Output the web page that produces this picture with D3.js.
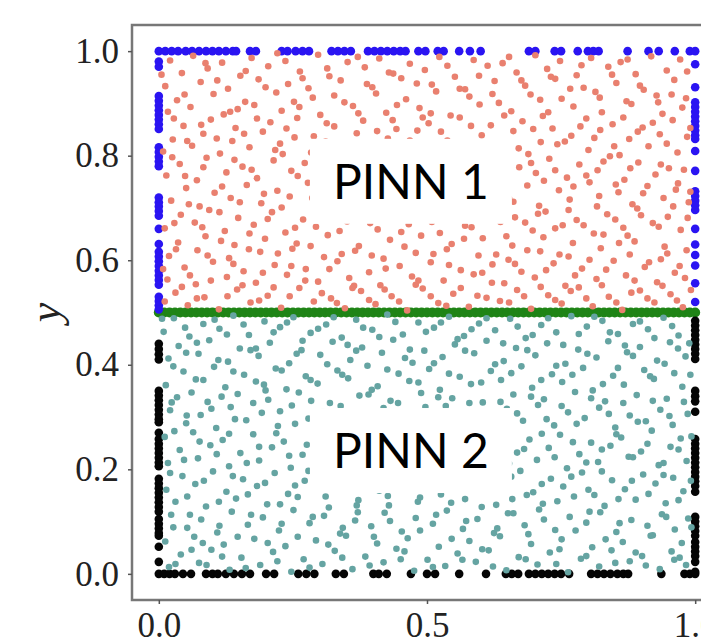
<!DOCTYPE html>
<html>
<head>
<meta charset="utf-8">
<script src="https://cdn.jsdelivr.net/npm/d3@7"></script>
<style>
  body { margin: 0; background: #fff; }
  svg { display: block; }
</style>
</head>
<body>
<div id="chart"></div>
<script>
// residual points, PINN 1 subdomain (y > 0.5)
const pinn1Points = [
  [0.021,0.982],[0.064,0.991],[0.118,0.978],[0.173,0.987],[0.236,0.981],[0.297,0.993],[0.352,0.979],[0.411,0.986],[0.468,0.976],[0.523,0.989],[0.587,0.983],[0.641,0.977],[0.702,0.992],[0.748,0.981],[0.806,0.987],[0.861,0.979],[0.918,0.99],[0.972,0.984],
  [0.043,0.958],[0.091,0.967],[0.152,0.953],[0.204,0.971],[0.263,0.961],[0.318,0.952],[0.384,0.969],[0.437,0.957],[0.496,0.964],[0.552,0.951],[0.613,0.972],[0.667,0.959],[0.724,0.966],[0.779,0.954],[0.838,0.97],[0.889,0.956],[0.947,0.963],
  [0.012,0.933],[0.078,0.941],[0.129,0.928],[0.186,0.946],[0.241,0.937],[0.279,0.929],[0.339,0.944],[0.398,0.931],[0.452,0.948],[0.509,0.936],[0.571,0.927],[0.626,0.943],[0.683,0.934],[0.739,0.947],[0.792,0.93],[0.853,0.939],[0.904,0.926],[0.961,0.945],
  [0.034,0.906],[0.102,0.918],[0.161,0.903],[0.219,0.921],[0.287,0.911],[0.346,0.902],[0.405,0.919],[0.461,0.908],[0.517,0.923],[0.579,0.913],[0.634,0.901],[0.693,0.917],[0.751,0.909],[0.814,0.922],[0.872,0.904],[0.928,0.915],[0.983,0.91],
  [0.017,0.884],[0.059,0.893],[0.121,0.879],[0.178,0.897],[0.229,0.886],[0.301,0.878],[0.362,0.895],[0.424,0.882],[0.486,0.891],[0.544,0.877],[0.598,0.898],[0.657,0.885],[0.716,0.876],[0.773,0.894],[0.826,0.883],[0.881,0.899],[0.939,0.88],[0.976,0.892],
  [0.046,0.857],[0.097,0.869],[0.143,0.853],[0.208,0.864],[0.258,0.872],[0.327,0.856],[0.381,0.867],[0.443,0.851],[0.503,0.862],[0.561,0.873],[0.619,0.858],[0.678,0.866],[0.734,0.852],[0.797,0.871],[0.846,0.86],[0.902,0.854],[0.958,0.868],
  [0.026,0.831],[0.083,0.842],[0.137,0.828],[0.194,0.846],[0.253,0.835],[0.311,0.827],[0.369,0.843],[0.427,0.833],[0.482,0.848],[0.538,0.829],[0.602,0.839],[0.661,0.847],[0.712,0.826],[0.769,0.838],[0.823,0.849],[0.877,0.832],[0.934,0.841],[0.985,0.836],
  [0.008,0.808],[0.062,0.819],[0.114,0.804],[0.169,0.816],[0.226,0.823],[0.284,0.806],[0.336,0.818],[0.393,0.802],[0.456,0.814],[0.514,0.821],[0.573,0.807],[0.629,0.817],[0.689,0.803],[0.743,0.822],[0.801,0.811],[0.859,0.801],[0.913,0.818],[0.967,0.806],
  [0.039,0.784],[0.089,0.796],[0.156,0.779],[0.214,0.791],[0.272,0.786],[0.331,0.798],[0.388,0.777],[0.447,0.789],[0.498,0.797],[0.557,0.781],[0.614,0.792],[0.672,0.778],[0.728,0.794],[0.784,0.783],[0.841,0.799],[0.894,0.787],[0.951,0.776],
  [0.014,0.762],[0.071,0.753],[0.126,0.768],[0.183,0.757],[0.247,0.771],[0.304,0.759],[0.358,0.766],[0.417,0.752],[0.471,0.769],[0.529,0.761],[0.589,0.774],[0.646,0.756],[0.703,0.767],[0.761,0.758],[0.818,0.772],[0.868,0.754],[0.926,0.764],[0.979,0.773],
  [0.051,0.738],[0.104,0.729],[0.164,0.744],[0.221,0.733],[0.278,0.748],[0.342,0.727],[0.401,0.741],[0.458,0.731],[0.519,0.746],[0.568,0.736],[0.631,0.728],[0.687,0.743],[0.746,0.734],[0.803,0.749],[0.857,0.73],[0.911,0.742],[0.964,0.735],
  [0.023,0.714],[0.076,0.703],[0.134,0.719],[0.191,0.709],[0.244,0.722],[0.306,0.706],[0.364,0.717],[0.421,0.702],[0.477,0.713],[0.536,0.724],[0.594,0.708],[0.653,0.718],[0.709,0.704],[0.766,0.716],[0.821,0.723],[0.883,0.707],[0.941,0.719],[0.988,0.711],
  [0.041,0.687],[0.094,0.696],[0.148,0.681],[0.211,0.692],[0.269,0.678],[0.324,0.694],[0.379,0.684],[0.438,0.698],[0.494,0.679],[0.551,0.689],[0.608,0.697],[0.664,0.682],[0.721,0.693],[0.779,0.677],[0.836,0.688],[0.892,0.699],[0.949,0.683],
  [0.011,0.661],[0.067,0.672],[0.123,0.656],[0.177,0.668],[0.236,0.653],[0.293,0.664],[0.351,0.674],[0.408,0.659],[0.466,0.669],[0.524,0.652],[0.583,0.663],[0.637,0.673],[0.697,0.657],[0.753,0.667],[0.811,0.651],[0.866,0.662],[0.921,0.671],[0.973,0.658],
  [0.036,0.634],[0.087,0.646],[0.141,0.629],[0.198,0.641],[0.257,0.632],[0.315,0.648],[0.373,0.627],[0.431,0.639],[0.489,0.647],[0.546,0.631],[0.604,0.642],[0.659,0.628],[0.717,0.644],[0.772,0.633],[0.829,0.649],[0.887,0.636],[0.943,0.626],
  [0.019,0.608],[0.072,0.619],[0.131,0.604],[0.189,0.616],[0.249,0.622],[0.308,0.606],[0.366,0.618],[0.419,0.603],[0.479,0.614],[0.537,0.621],[0.596,0.609],[0.652,0.601],[0.711,0.617],[0.764,0.607],[0.824,0.623],[0.878,0.611],[0.936,0.602],[0.984,0.619],
  [0.048,0.586],[0.101,0.597],[0.158,0.579],[0.216,0.591],[0.274,0.583],[0.333,0.598],[0.392,0.577],[0.449,0.589],[0.507,0.596],[0.563,0.581],[0.622,0.592],[0.676,0.578],[0.736,0.594],[0.789,0.584],[0.848,0.599],[0.906,0.587],[0.962,0.576],
  [0.016,0.563],[0.069,0.554],[0.127,0.568],[0.181,0.557],[0.239,0.572],[0.297,0.559],[0.355,0.566],[0.413,0.552],[0.472,0.569],[0.531,0.561],[0.587,0.573],[0.644,0.556],[0.701,0.567],[0.758,0.551],[0.816,0.564],[0.871,0.571],[0.929,0.558],[0.981,0.566],
  [0.031,0.538],[0.085,0.529],[0.146,0.544],[0.203,0.532],[0.262,0.547],[0.321,0.527],[0.377,0.541],[0.434,0.531],[0.492,0.546],[0.549,0.536],[0.611,0.528],[0.668,0.543],[0.726,0.533],[0.783,0.548],[0.839,0.53],[0.897,0.542],[0.954,0.535],
  [0.054,0.514],[0.112,0.506],[0.171,0.519],[0.228,0.509],[0.289,0.521],[0.347,0.508],[0.404,0.516],[0.463,0.504],[0.521,0.518],[0.578,0.511],[0.636,0.522],[0.694,0.507],[0.751,0.517],[0.809,0.512],[0.864,0.505],[0.924,0.519],[0.977,0.51],
  [0.005,0.955],[0.048,0.917],[0.087,0.977],[0.109,0.944],[0.147,0.889],[0.162,0.962],[0.199,0.931],[0.221,0.996],[0.252,0.903],[0.268,0.948],[0.314,0.967],[0.327,0.915],[0.371,0.989],[0.388,0.937],[0.429,0.959],[0.444,0.897],[0.481,0.938],[0.507,0.881],[0.538,0.972],[0.561,0.928],[0.597,0.953],[0.622,0.918],[0.653,0.989],[0.676,0.944],[0.711,0.907],[0.731,0.951],[0.767,0.928],[0.788,0.973],[0.822,0.911],[0.845,0.955],[0.874,0.984],[0.897,0.934],[0.931,0.902],[0.956,0.917],[0.985,0.961],
  [0.028,0.871],[0.053,0.828],[0.079,0.859],[0.108,0.833],[0.133,0.884],[0.159,0.842],[0.183,0.871],[0.217,0.811],[0.238,0.852],[0.262,0.893],[0.289,0.837],[0.313,0.862],[0.348,0.821],[0.372,0.881],[0.407,0.847],[0.436,0.868],[0.468,0.829],[0.492,0.873],[0.526,0.846],[0.553,0.811],[0.582,0.857],[0.611,0.823],[0.644,0.877],[0.671,0.814],[0.698,0.851],[0.726,0.883],[0.757,0.827],[0.786,0.856],[0.812,0.834],[0.849,0.818],[0.866,0.873],[0.893,0.846],[0.921,0.863],[0.947,0.823],[0.991,0.853],
  [0.025,0.797],[0.049,0.761],[0.083,0.778],[0.118,0.741],[0.141,0.792],[0.173,0.773],[0.196,0.727],[0.231,0.803],[0.259,0.761],[0.292,0.772],[0.317,0.738],[0.346,0.784],[0.374,0.751],[0.406,0.776],[0.433,0.719],[0.463,0.796],[0.488,0.744],[0.513,0.788],[0.543,0.749],[0.574,0.726],[0.601,0.779],[0.638,0.764],[0.661,0.712],[0.694,0.786],[0.718,0.752],[0.739,0.772],[0.773,0.741],[0.797,0.762],[0.829,0.789],[0.852,0.745],[0.879,0.776],[0.903,0.728],[0.936,0.783],[0.968,0.747],[0.991,0.731],
  [0.029,0.671],[0.056,0.707],[0.081,0.663],[0.113,0.692],[0.151,0.711],[0.169,0.651],[0.203,0.679],[0.229,0.701],[0.254,0.662],[0.286,0.719],[0.312,0.687],[0.337,0.656],[0.361,0.701],[0.394,0.671],[0.426,0.688],[0.452,0.654],[0.483,0.702],[0.509,0.673],[0.537,0.697],[0.571,0.666],[0.596,0.683],[0.621,0.708],[0.648,0.646],[0.683,0.672],[0.707,0.689],[0.739,0.661],[0.764,0.696],[0.792,0.667],[0.817,0.703],[0.851,0.678],[0.874,0.647],[0.899,0.686],[0.932,0.664],[0.959,0.703],[0.986,0.681],
  [0.008,0.583],[0.032,0.621],[0.058,0.571],[0.091,0.609],[0.116,0.637],[0.139,0.593],[0.168,0.621],[0.194,0.576],[0.222,0.613],[0.247,0.589],[0.283,0.627],[0.318,0.583],[0.341,0.612],[0.364,0.551],[0.397,0.609],[0.423,0.584],[0.458,0.626],[0.484,0.561],[0.512,0.612],[0.541,0.591],[0.569,0.641],[0.603,0.576],[0.629,0.611],[0.664,0.593],[0.687,0.619],[0.722,0.581],[0.747,0.611],[0.776,0.571],[0.803,0.601],[0.834,0.582],[0.858,0.633],[0.887,0.561],[0.914,0.596],[0.948,0.613],[0.971,0.589],
  [0.011,0.521],[0.043,0.549],[0.071,0.527],[0.097,0.561],[0.128,0.531],[0.156,0.552],[0.187,0.523],[0.214,0.548],[0.244,0.531],[0.273,0.561],[0.304,0.537],[0.332,0.518],[0.361,0.547],[0.392,0.524],[0.421,0.544],[0.448,0.521],[0.479,0.553],[0.507,0.531],[0.536,0.513],[0.563,0.547],[0.594,0.532],[0.621,0.557],[0.653,0.519],[0.681,0.531],[0.712,0.549],[0.739,0.524],[0.768,0.541],[0.797,0.527],[0.826,0.552],[0.853,0.519],[0.881,0.538],[0.911,0.527],[0.939,0.551],[0.966,0.523],[0.992,0.543]
];

// residual points, PINN 2 subdomain (y < 0.5)
const pinn2Points = [
  [0.028,0.489],[0.083,0.478],[0.139,0.494],[0.197,0.483],[0.251,0.491],[0.312,0.477],[0.368,0.486],[0.426,0.496],[0.484,0.481],[0.541,0.492],[0.597,0.479],[0.655,0.488],[0.713,0.476],[0.769,0.493],[0.827,0.484],[0.884,0.478],[0.941,0.49],
  [0.009,0.463],[0.057,0.454],[0.113,0.469],[0.168,0.457],[0.226,0.472],[0.283,0.461],[0.341,0.452],[0.398,0.467],[0.455,0.458],[0.513,0.471],[0.569,0.455],[0.627,0.466],[0.684,0.451],[0.741,0.462],[0.798,0.473],[0.856,0.459],[0.912,0.468],[0.969,0.456],
  [0.037,0.436],[0.094,0.447],[0.151,0.431],[0.207,0.442],[0.266,0.428],[0.324,0.444],[0.379,0.433],[0.437,0.448],[0.495,0.427],[0.552,0.439],[0.611,0.446],[0.666,0.432],[0.724,0.441],[0.782,0.429],[0.838,0.445],[0.897,0.434],[0.953,0.443],
  [0.018,0.412],[0.074,0.421],[0.129,0.406],[0.186,0.417],[0.243,0.403],[0.301,0.419],[0.357,0.409],[0.416,0.423],[0.473,0.404],[0.529,0.415],[0.588,0.422],[0.643,0.407],[0.702,0.418],[0.758,0.402],[0.816,0.414],[0.873,0.424],[0.929,0.408],[0.982,0.416],
  [0.046,0.387],[0.103,0.396],[0.159,0.381],[0.218,0.393],[0.274,0.378],[0.333,0.389],[0.389,0.398],[0.447,0.383],[0.504,0.392],[0.561,0.377],[0.619,0.388],[0.676,0.397],[0.733,0.382],[0.791,0.394],[0.847,0.379],[0.905,0.39],[0.961,0.384],
  [0.013,0.361],[0.069,0.372],[0.124,0.357],[0.181,0.368],[0.238,0.353],[0.296,0.364],[0.353,0.374],[0.408,0.359],[0.467,0.369],[0.524,0.352],[0.582,0.363],[0.638,0.371],[0.696,0.356],[0.752,0.367],[0.809,0.351],[0.867,0.362],[0.923,0.373],[0.976,0.358],
  [0.034,0.338],[0.091,0.329],[0.147,0.344],[0.204,0.333],[0.261,0.347],[0.319,0.327],[0.374,0.341],[0.432,0.331],[0.489,0.346],[0.547,0.336],[0.604,0.328],[0.661,0.343],[0.718,0.334],[0.776,0.348],[0.832,0.33],[0.891,0.342],[0.947,0.335],
  [0.021,0.313],[0.078,0.304],[0.134,0.319],[0.192,0.308],[0.248,0.322],[0.306,0.311],[0.363,0.302],[0.419,0.317],[0.477,0.307],[0.535,0.321],[0.592,0.305],[0.649,0.316],[0.707,0.323],[0.763,0.309],[0.821,0.318],[0.878,0.303],[0.935,0.314],[0.986,0.306],
  [0.051,0.288],[0.107,0.279],[0.163,0.294],[0.222,0.283],[0.279,0.297],[0.336,0.277],[0.393,0.291],[0.451,0.281],[0.508,0.296],[0.565,0.286],[0.622,0.278],[0.679,0.293],[0.737,0.284],[0.794,0.298],[0.851,0.28],[0.908,0.292],[0.958,0.285],
  [0.011,0.262],[0.064,0.271],[0.119,0.256],[0.176,0.267],[0.233,0.253],[0.291,0.264],[0.347,0.273],[0.404,0.258],[0.462,0.268],[0.519,0.252],[0.577,0.263],[0.634,0.272],[0.691,0.257],[0.748,0.266],[0.806,0.251],[0.862,0.261],[0.919,0.274],[0.973,0.259],
  [0.039,0.237],[0.096,0.246],[0.152,0.231],[0.211,0.242],[0.268,0.228],[0.326,0.244],[0.383,0.233],[0.441,0.248],[0.498,0.227],[0.554,0.239],[0.613,0.245],[0.668,0.232],[0.727,0.241],[0.784,0.229],[0.842,0.245],[0.899,0.234],[0.954,0.243],
  [0.017,0.212],[0.073,0.221],[0.131,0.206],[0.187,0.217],[0.246,0.203],[0.303,0.219],[0.359,0.209],[0.418,0.223],[0.474,0.204],[0.532,0.215],[0.59,0.222],[0.646,0.207],[0.705,0.218],[0.761,0.202],[0.819,0.214],[0.876,0.224],[0.932,0.208],[0.984,0.216],
  [0.044,0.187],[0.101,0.196],[0.157,0.181],[0.216,0.193],[0.272,0.178],[0.331,0.189],[0.387,0.198],[0.446,0.183],[0.503,0.192],[0.559,0.177],[0.617,0.188],[0.674,0.197],[0.731,0.182],[0.789,0.194],[0.845,0.179],[0.903,0.19],[0.959,0.184],
  [0.014,0.161],[0.068,0.172],[0.126,0.157],[0.183,0.168],[0.241,0.153],[0.298,0.164],[0.354,0.174],[0.411,0.159],[0.469,0.169],[0.526,0.152],[0.584,0.163],[0.641,0.171],[0.698,0.156],[0.754,0.167],[0.812,0.151],[0.869,0.162],[0.926,0.173],[0.978,0.158],
  [0.031,0.138],[0.088,0.129],[0.144,0.144],[0.202,0.133],[0.259,0.147],[0.317,0.127],[0.372,0.141],[0.429,0.131],[0.487,0.146],[0.545,0.136],[0.602,0.128],[0.659,0.143],[0.716,0.134],[0.774,0.148],[0.831,0.13],[0.889,0.142],[0.945,0.135],
  [0.023,0.113],[0.079,0.104],[0.136,0.119],[0.194,0.108],[0.251,0.122],[0.308,0.111],[0.366,0.102],[0.421,0.117],[0.479,0.107],[0.537,0.121],[0.594,0.105],[0.651,0.116],[0.709,0.123],[0.766,0.109],[0.823,0.118],[0.881,0.103],[0.938,0.114],[0.987,0.106],
  [0.053,0.088],[0.109,0.079],[0.166,0.094],[0.224,0.083],[0.281,0.097],[0.338,0.077],[0.396,0.091],[0.453,0.081],[0.511,0.096],[0.567,0.086],[0.625,0.078],[0.682,0.093],[0.739,0.084],[0.797,0.098],[0.853,0.08],[0.911,0.092],[0.962,0.085],
  [0.012,0.062],[0.066,0.071],[0.121,0.056],[0.178,0.067],[0.236,0.053],[0.293,0.064],[0.349,0.073],[0.407,0.058],[0.464,0.068],[0.522,0.052],[0.579,0.063],[0.636,0.072],[0.694,0.057],[0.751,0.066],[0.808,0.051],[0.865,0.061],[0.921,0.074],[0.975,0.059],
  [0.041,0.037],[0.098,0.046],[0.154,0.031],[0.213,0.042],[0.27,0.028],[0.328,0.044],[0.385,0.033],[0.443,0.048],[0.501,0.027],[0.557,0.039],[0.615,0.045],[0.671,0.032],[0.729,0.041],[0.787,0.029],[0.844,0.045],[0.901,0.034],[0.956,0.043],
  [0.019,0.013],[0.075,0.021],[0.132,0.008],[0.189,0.017],[0.247,0.004],[0.305,0.019],[0.361,0.009],[0.419,0.022],[0.476,0.006],[0.534,0.015],[0.591,0.023],[0.648,0.007],[0.706,0.018],[0.763,0.003],[0.821,0.014],[0.878,0.024],[0.934,0.009],[0.983,0.017],
  [0.006,0.488],[0.049,0.471],[0.071,0.442],[0.104,0.486],[0.127,0.458],[0.158,0.477],[0.181,0.431],[0.214,0.462],[0.239,0.481],[0.268,0.446],[0.297,0.469],[0.326,0.491],[0.352,0.438],[0.381,0.471],[0.411,0.453],[0.441,0.482],[0.468,0.429],[0.498,0.463],[0.526,0.481],[0.557,0.449],[0.583,0.468],[0.611,0.489],[0.642,0.441],[0.669,0.473],[0.697,0.457],[0.726,0.489],[0.754,0.438],[0.783,0.459],[0.812,0.492],[0.841,0.462],[0.869,0.437],[0.897,0.483],[0.924,0.451],[0.957,0.474],[0.989,0.441],
  [0.027,0.397],[0.051,0.423],[0.083,0.371],[0.111,0.409],[0.139,0.387],[0.171,0.428],[0.196,0.362],[0.229,0.389],[0.257,0.421],[0.283,0.371],[0.314,0.401],[0.342,0.381],[0.368,0.427],[0.397,0.352],[0.426,0.391],[0.459,0.413],[0.484,0.366],[0.513,0.403],[0.541,0.383],[0.571,0.427],[0.601,0.366],[0.627,0.401],[0.657,0.384],[0.687,0.428],[0.713,0.371],[0.741,0.398],[0.771,0.381],[0.799,0.421],[0.828,0.363],[0.856,0.394],[0.884,0.417],[0.916,0.378],[0.943,0.402],[0.968,0.431],[0.991,0.381],
  [0.024,0.328],[0.052,0.303],[0.061,0.347],[0.098,0.316],[0.117,0.339],[0.142,0.296],[0.176,0.327],[0.199,0.351],[0.226,0.311],[0.254,0.287],[0.284,0.331],[0.309,0.296],[0.339,0.321],[0.358,0.287],[0.391,0.343],[0.411,0.306],[0.446,0.327],[0.469,0.291],[0.497,0.319],[0.521,0.338],[0.553,0.303],[0.579,0.327],[0.608,0.289],[0.637,0.329],[0.668,0.307],[0.694,0.339],[0.723,0.296],[0.751,0.321],[0.779,0.287],[0.806,0.336],[0.839,0.306],[0.866,0.327],[0.893,0.291],[0.921,0.331],[0.952,0.302],[0.979,0.329],
  [0.029,0.273],[0.047,0.218],[0.076,0.253],[0.108,0.229],[0.131,0.268],[0.164,0.212],[0.187,0.243],[0.219,0.269],[0.243,0.226],[0.276,0.247],[0.307,0.266],[0.334,0.214],[0.366,0.241],[0.393,0.268],[0.421,0.218],[0.452,0.239],[0.479,0.259],[0.508,0.213],[0.539,0.249],[0.566,0.271],[0.597,0.226],[0.624,0.253],[0.653,0.211],[0.681,0.239],[0.714,0.268],[0.738,0.223],[0.772,0.252],[0.797,0.213],[0.826,0.238],[0.853,0.267],[0.884,0.223],[0.911,0.249],[0.941,0.212],[0.969,0.238],[0.993,0.263],
  [0.021,0.193],[0.053,0.148],[0.084,0.178],[0.112,0.138],[0.138,0.187],[0.166,0.152],[0.198,0.174],[0.226,0.133],[0.254,0.169],[0.279,0.197],[0.311,0.148],[0.341,0.172],[0.369,0.131],[0.397,0.181],[0.427,0.149],[0.454,0.198],[0.483,0.138],[0.514,0.171],[0.543,0.193],[0.571,0.143],[0.597,0.173],[0.629,0.132],[0.657,0.186],[0.686,0.151],[0.714,0.172],[0.743,0.139],[0.769,0.186],[0.801,0.161],[0.826,0.196],[0.857,0.143],[0.882,0.178],[0.913,0.153],[0.941,0.189],[0.969,0.141],[0.992,0.178],
  [0.027,0.089],[0.058,0.113],[0.082,0.059],[0.113,0.092],[0.147,0.071],[0.172,0.113],[0.203,0.059],[0.229,0.096],[0.259,0.071],[0.287,0.109],[0.316,0.056],[0.343,0.088],[0.371,0.118],[0.401,0.071],[0.431,0.101],[0.458,0.043],[0.487,0.083],[0.517,0.113],[0.546,0.067],[0.573,0.101],[0.603,0.047],[0.631,0.087],[0.661,0.116],[0.689,0.076],[0.718,0.104],[0.747,0.047],[0.777,0.083],[0.803,0.119],[0.833,0.066],[0.859,0.097],[0.889,0.041],[0.917,0.073],[0.946,0.109],[0.971,0.031],[0.993,0.089],
  [0.031,0.019],[0.061,0.046],[0.089,0.017],[0.118,0.033],[0.162,0.011],[0.221,0.024],[0.281,0.012],[0.342,0.031],[0.393,0.016],[0.451,0.028],[0.511,0.013],[0.566,0.027],[0.623,0.014],[0.684,0.028],[0.741,0.019],[0.797,0.034],[0.851,0.021],[0.908,0.016],[0.961,0.027]
];

// boundary points of PINN 1 (blue)
const blueTopX = [0,0.012,0.024,0.036,0.05,0.062,0.075,0.088,0.1,0.112,0.125,0.138,0.144,0.17,0.181,0.229,0.24,0.255,0.268,0.28,0.322,0.334,0.346,0.358,0.39,0.402,0.414,0.426,0.438,0.45,0.46,0.484,0.497,0.52,0.531,0.56,0.58,0.6,0.69,0.702,0.738,0.75,0.781,0.8,0.81,0.82,0.874,0.913,0.932,0.962,0.99,1.0];
const blueLeftY = [0.98,0.97,0.914,0.905,0.896,0.887,0.878,0.869,0.86,0.851,0.816,0.807,0.798,0.789,0.78,0.72,0.711,0.703,0.694,0.685,0.66,0.631,0.616,0.607,0.598,0.589,0.58,0.571,0.562,0.553,0.53,0.522,0.514,0.506];
const blueRightY = [0.975,0.931,0.902,0.893,0.884,0.875,0.866,0.857,0.848,0.839,0.832,0.809,0.771,0.732,0.723,0.714,0.705,0.696,0.66,0.63,0.61,0.59,0.556,0.52];

// boundary points of PINN 2 (black)
const blackBottomX = [0,0.01,0.02,0.03,0.045,0.06,0.088,0.1,0.11,0.125,0.14,0.155,0.17,0.2,0.215,0.26,0.275,0.29,0.33,0.345,0.4,0.41,0.425,0.47,0.5,0.515,0.56,0.61,0.647,0.658,0.67,0.69,0.702,0.714,0.726,0.738,0.75,0.765,0.806,0.818,0.83,0.842,0.855,0.866,0.875,0.937,0.98,0.99,1.0];
const blackLeftY = [0.44,0.43,0.42,0.41,0.35,0.341,0.332,0.323,0.314,0.305,0.296,0.29,0.27,0.258,0.249,0.24,0.231,0.222,0.213,0.206,0.182,0.173,0.164,0.155,0.146,0.137,0.128,0.119,0.105,0.096,0.087,0.078,0.073,0.052,0.023];
const blackRightY = [0.484,0.475,0.466,0.457,0.448,0.439,0.43,0.421,0.411,0.35,0.34,0.33,0.31,0.258,0.249,0.24,0.231,0.222,0.213,0.204,0.195,0.186,0.177,0.168,0.157,0.109,0.1,0.091,0.082,0.073,0.061,0.052,0.043,0.034,0.023,0.004];

// interface points at y = 0.5 (green)
const interfaceX = [0,0.01,0.02,0.03,0.04,0.05,0.06,0.07,0.08,0.09,0.1,0.11,0.12,0.13,0.14,0.15,0.16,0.17,0.18,0.19,0.2,0.21,0.22,0.23,0.24,0.25,0.26,0.27,0.28,0.29,0.3,0.31,0.32,0.33,0.34,0.35,0.36,0.37,0.38,0.39,0.4,0.41,0.42,0.43,0.44,0.45,0.46,0.47,0.48,0.49,0.5,0.51,0.52,0.53,0.54,0.55,0.56,0.57,0.58,0.59,0.6,0.61,0.62,0.63,0.64,0.65,0.66,0.67,0.68,0.69,0.7,0.71,0.72,0.73,0.74,0.75,0.76,0.77,0.78,0.79,0.8,0.81,0.82,0.83,0.84,0.85,0.86,0.87,0.88,0.89,0.9,0.91,0.92,0.93,0.94,0.95,0.96,0.97,0.98,0.99,1.0];

const yTicks = [0, 0.2, 0.4, 0.6, 0.8, 1.0];
const xTicks = [0, 0.5, 1.0];
const labels = [
  { text: "PINN 1", cx: 0.47, cy: 0.75 },
  { text: "PINN 2", cx: 0.47, cy: 0.235 }
];

const width = 701, height = 639;
const margin = { left: 132, top: 25 };
const plotW = 590, plotH = 575;

const svg = d3.select("#chart").append("svg")
  .attr("width", width)
  .attr("height", height);

const x = d3.scaleLinear().domain([-0.05, 1.05]).range([margin.left, margin.left + plotW]);
const y = d3.scaleLinear().domain([-0.05, 1.05]).range([margin.top + plotH, margin.top]);

const plot = svg.append("g");

function dots(data, r, color) {
  plot.append("g")
    .selectAll("circle")
    .data(data)
    .enter()
    .append("circle")
    .attr("cx", d => x(d[0]))
    .attr("cy", d => y(d[1]))
    .attr("r", r)
    .attr("fill", color);
}

// interface first, then boundaries, then residual points on top
dots(interfaceX.map(v => [v, 0.5]), 5, "#1f8416");
dots(blueTopX.map(v => [v, 1]), 4.3, "#2a14f2");
dots(blueLeftY.map(v => [0, v]), 4.3, "#2a14f2");
dots(blueRightY.map(v => [1, v]), 4.3, "#2a14f2");
dots(blackBottomX.map(v => [v, 0]), 4.3, "#050505");
dots(blackLeftY.map(v => [0, v]), 4.3, "#050505");
dots(blackRightY.map(v => [1, v]), 4.3, "#050505");
dots(pinn1Points, 3.3, "#e9806f");
dots(pinn2Points, 3.3, "#65a4a2");

// frame
svg.append("rect")
  .attr("x", margin.left)
  .attr("y", margin.top)
  .attr("width", plotW)
  .attr("height", plotH)
  .attr("fill", "none")
  .attr("stroke", "#777")
  .attr("stroke-width", 2.5);

// axes
const yAxis = svg.append("g")
  .attr("transform", `translate(${margin.left},0)`)
  .call(d3.axisLeft(y).tickValues(yTicks).tickFormat(d3.format(".1f")).tickSize(4).tickPadding(9));

const xAxis = svg.append("g")
  .attr("transform", `translate(0,${margin.top + plotH})`)
  .call(d3.axisBottom(x).tickValues(xTicks).tickFormat(d3.format(".1f")).tickSize(4).tickPadding(8));

[yAxis, xAxis].forEach(a => {
  a.select(".domain").remove();
  a.selectAll(".tick line").attr("stroke", "#555").attr("stroke-width", 1.5);
  a.selectAll(".tick text")
    .attr("fill", "#222")
    .style("font-family", "'Liberation Serif', serif")
    .style("font-size", "35px");
});

svg.append("text")
  .attr("transform", `translate(60,${margin.top + plotH / 2}) rotate(-90)`)
  .attr("text-anchor", "middle")
  .style("font-family", "'Liberation Serif', serif")
  .style("font-style", "italic")
  .style("font-size", "44px")
  .attr("fill", "#222")
  .text("y");

// subdomain labels in white boxes
const lab = svg.append("g")
  .selectAll("g")
  .data(labels)
  .enter()
  .append("g");

lab.append("rect")
  .attr("x", d => x(d.cx) - 101)
  .attr("y", d => y(d.cy) - 43)
  .attr("width", 202)
  .attr("height", 85)
  .attr("fill", "#fff");

lab.append("text")
  .attr("x", d => x(d.cx))
  .attr("y", d => y(d.cy) + 17)
  .attr("text-anchor", "middle")
  .style("font-family", "Lato, 'Open Sans', sans-serif")
  .style("font-size", "48px")
  .attr("fill", "#000")
  .text(d => d.text);
</script>
</body>
</html>
